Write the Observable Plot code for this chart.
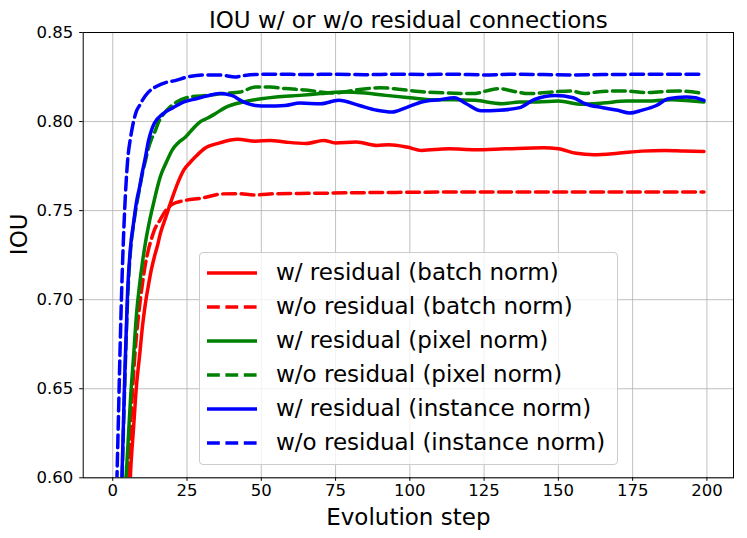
<!DOCTYPE html>
<html>
<head>
<meta charset="utf-8">
<script src="https://cdn.jsdelivr.net/npm/d3@7"></script>
<script src="https://cdn.jsdelivr.net/npm/@observablehq/plot@0.6"></script>
<style>
  html, body { margin: 0; padding: 0; background: white; }
  #wrap { position: relative; width: 747px; height: 538px; font-family: "DejaVu Sans", sans-serif; }
  #legend {
    position: absolute; left: 199px; top: 252px; width: 419px; height: 213px;
    box-sizing: border-box; border: 1px solid #cccccc; border-radius: 4px;
    background: rgba(255,255,255,0.8); padding-top: 2px;
  }
  .row { position: relative; height: 34px; }
  .row svg { position: absolute; left: 7px; top: 15px; }
  .row span { position: absolute; left: 76px; top: 0; line-height: 34px; font-size: 23px; color: #000; white-space: nowrap; }
</style>
</head>
<body>
<div id="wrap"><div id="legend"></div></div>
<script>
const xTicks = [0, 25, 50, 75, 100, 125, 150, 175, 200];
const yTicks = [0.60, 0.65, 0.70, 0.75, 0.80, 0.85];

const seriesNames = [
  "w/ residual (batch norm)",
  "w/o residual (batch norm)",
  "w/ residual (pixel norm)",
  "w/o residual (pixel norm)",
  "w/ residual (instance norm)",
  "w/o residual (instance norm)"
];
const seriesColors = ["#ff0000", "#ff0000", "#008000", "#008000", "#0000ff", "#0000ff"];
const seriesDashed = [false, true, false, true, false, true];

// [evolution step, IOU]
const resBatch = [[0,0.20],[4,0.50],[5,0.56],[6,0.603],[7,0.628],[8,0.652],[9,0.668],[10,0.685],[11,0.698],[12,0.708],[13,0.717],[14,0.724],[15,0.730],[16,0.737],[18,0.747],[20,0.757],[22,0.766],[24,0.773],[26,0.777],[28,0.7805],[31,0.785],[36,0.788],[42,0.790],[48,0.789],[53,0.7894],[58,0.7885],[65,0.7877],[71,0.7894],[75,0.788],[82,0.7885],[89,0.7866],[93,0.787],[99,0.7857],[104,0.7838],[113,0.7847],[122,0.7842],[132,0.7847],[145,0.7853],[150,0.7847],[156,0.7822],[162,0.7814],[170,0.7822],[178,0.7834],[186,0.7838],[192,0.7835],[199,0.7832]];
const noResBatch = [[0,0.25],[3,0.47],[4,0.54],[5,0.59],[6,0.628],[7,0.658],[8,0.68],[9,0.696],[10,0.709],[11,0.72],[12,0.728],[13,0.734],[14,0.739],[16,0.745],[18,0.7505],[20,0.7535],[24,0.7556],[30,0.757],[37,0.7594],[42,0.7595],[48,0.7588],[55,0.7595],[67,0.7597],[80,0.760],[100,0.7603],[130,0.7605],[160,0.7605],[199,0.7605]];
const resPixel = [[0,0.30],[2,0.48],[3,0.54],[4,0.585],[5,0.615],[6,0.645],[7,0.668],[8,0.692],[9,0.708],[10,0.721],[11,0.732],[12,0.741],[13,0.749],[14,0.756],[15,0.763],[16,0.769],[18,0.777],[20,0.784],[22,0.788],[24.5,0.7913],[27,0.796],[29.5,0.800],[32,0.802],[34.5,0.8044],[38,0.808],[44,0.811],[50,0.8128],[55,0.8138],[63,0.8147],[70,0.8157],[77,0.8166],[85,0.816],[92,0.8147],[100,0.8134],[108,0.8123],[115,0.8123],[122,0.8119],[131,0.810],[137,0.811],[143,0.811],[150,0.8115],[158,0.8097],[165,0.8104],[173,0.8115],[181,0.8115],[188,0.8123],[195,0.8115],[199,0.811]];
const noResPixel = [[0,0.30],[1,0.45],[2,0.53],[3,0.59],[4,0.65],[5,0.70],[6,0.728],[7,0.742],[8,0.753],[9,0.762],[10,0.771],[11,0.778],[12,0.785],[13,0.790],[14,0.7935],[15.5,0.800],[18,0.806],[21.5,0.811],[26,0.8138],[32,0.8147],[37,0.8157],[43,0.8166],[48,0.8194],[53,0.8194],[58,0.8185],[65,0.8177],[74,0.816],[83,0.818],[90,0.819],[97,0.818],[105,0.8166],[113,0.816],[121,0.8157],[130,0.8185],[136,0.8166],[140,0.8157],[147,0.8165],[154,0.8172],[159,0.8157],[163,0.8166],[172,0.8172],[180,0.8163],[190,0.8172],[199,0.8157]];
const resInstance = [[0,0.35],[1,0.47],[2,0.55],[3,0.595],[4,0.655],[5,0.705],[6,0.73],[7,0.743],[8,0.755],[9,0.763],[10,0.772],[11,0.780],[12,0.789],[13,0.795],[14,0.799],[17,0.8045],[20,0.8075],[24,0.811],[28,0.8128],[32,0.8145],[36,0.8157],[40,0.8147],[44,0.811],[48,0.809],[52,0.8087],[58,0.809],[63,0.8104],[70,0.810],[76,0.812],[83,0.809],[89,0.8063],[94,0.8053],[99,0.808],[104,0.811],[110,0.8123],[115,0.8134],[119,0.810],[124,0.806],[130,0.8063],[137,0.8078],[142,0.8125],[149,0.8147],[155,0.8134],[159,0.810],[165,0.8078],[170,0.8063],[174,0.8048],[178,0.8063],[183,0.809],[187,0.8128],[193,0.8138],[196,0.8134],[199,0.8119]];
const noResInstance = [[0,0.40],[1,0.56],[2,0.64],[3,0.705],[4,0.75],[5,0.778],[6,0.791],[7,0.800],[8,0.806],[9,0.809],[10,0.812],[12,0.8165],[15,0.820],[18,0.822],[21,0.823],[25,0.825],[30,0.8262],[35,0.8262],[38,0.8258],[41,0.825],[44,0.8258],[48,0.8264],[55,0.8266],[65,0.8264],[75,0.8266],[85,0.8263],[95,0.8266],[105,0.8264],[115,0.8266],[125,0.8262],[135,0.8266],[145,0.8264],[155,0.8262],[165,0.8264],[175,0.8265],[185,0.8266],[199,0.8265]];

const seriesData = [resBatch, noResBatch, resPixel, noResPixel, resInstance, noResInstance];
const DASH = "12.8,5.6";
const LW = 3.5;

const lineMarks = seriesData.map((s, i) => Plot.line(s, {
  x: d => d[0], y: d => d[1],
  stroke: seriesColors[i], strokeWidth: LW,
  strokeDasharray: seriesDashed[i] ? DASH : null,
  curve: "monotone-x", clip: true
}));

const chart = Plot.plot({
  width: 747, height: 538,
  marginLeft: 82.7, marginRight: 14, marginTop: 32, marginBottom: 60.7,
  style: { fontFamily: "DejaVu Sans, sans-serif", fontSize: "16.5px", background: "white", color: "black", overflow: "visible" },
  x: { domain: [-9.95, 208.95] },
  y: { domain: [0.60, 0.85] },
  marks: [
    Plot.gridX(xTicks, { stroke: "#b0b0b0", strokeOpacity: 1, strokeWidth: 0.8 }),
    Plot.gridY(yTicks, { stroke: "#b0b0b0", strokeOpacity: 1, strokeWidth: 0.8 }),
    ...lineMarks,
    Plot.frame({ stroke: "#000", strokeWidth: 1 }),
    Plot.axisX(xTicks, { tickSize: 3.5, tickPadding: 2.5, label: null, fontSize: 16.5 }),
    Plot.axisY(yTicks, { tickSize: 3.5, tickPadding: 6.5, label: null, tickFormat: d3.format(".2f"), fontSize: 16.5 }),
    Plot.text(["IOU w/ or w/o residual connections"], { frameAnchor: "top", lineAnchor: "middle", dy: -11.4, fontSize: 23 }),
    Plot.text(["Evolution step"], { frameAnchor: "bottom", lineAnchor: "middle", dy: 40, fontSize: 23 }),
    Plot.text(["IOU"], { frameAnchor: "left", lineAnchor: "middle", dx: -63.7, rotate: -90, fontSize: 23 })
  ]
});
const wrap = document.getElementById("wrap");
wrap.insertBefore(chart, wrap.firstChild);

const legend = document.getElementById("legend");
seriesNames.forEach((name, i) => {
  const row = document.createElement("div");
  row.className = "row";
  const dash = seriesDashed[i] ? ` stroke-dasharray="${DASH}"` : "";
  row.innerHTML = `<svg width="50" height="6"><line x1="0" y1="3" x2="50" y2="3" stroke="${seriesColors[i]}" stroke-width="${LW}"${dash}/></svg><span>${name}</span>`;
  legend.appendChild(row);
});
</script>
</body>
</html>
